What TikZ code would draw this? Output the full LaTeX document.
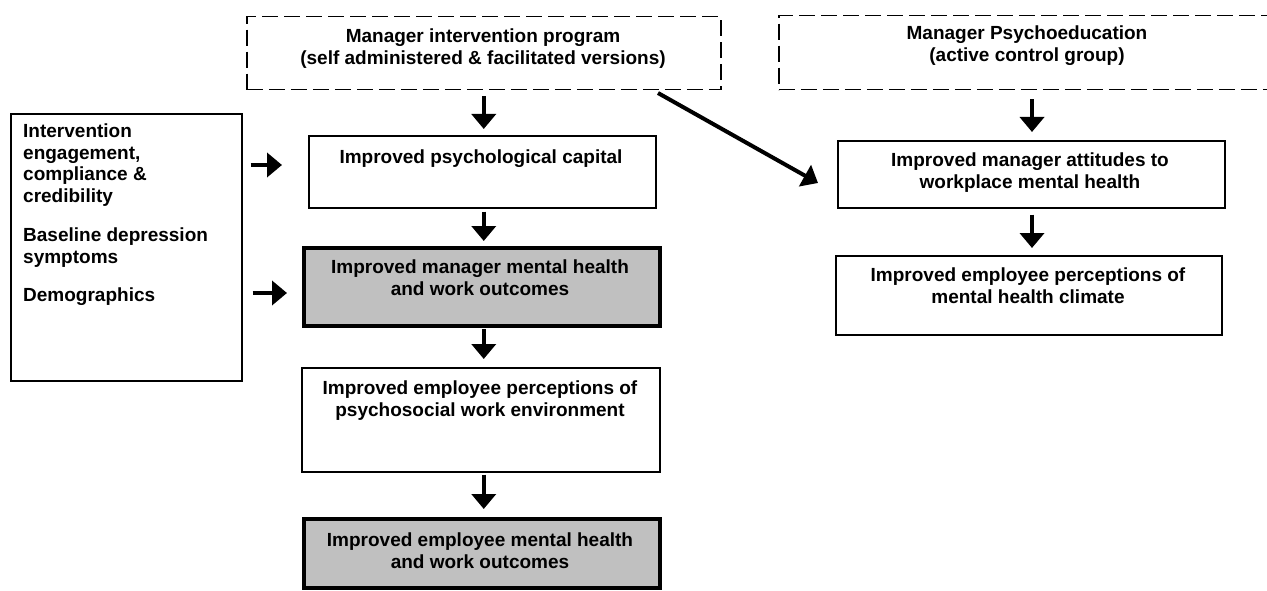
\documentclass[tikz,border=0pt]{standalone}
\usepackage{fontspec}
\setmainfont{Liberation Sans}
\usetikzlibrary{arrows.meta,calc}
\definecolor{boxgray}{HTML}{C0C0C0}
\tikzset{
  box/.style={draw=black, line width=1.6pt, rectangle, inner sep=0pt, anchor=north west},
  dbox/.style={box, dash pattern=on 16pt off 6pt, line width=1.5pt},
  gbox/.style={box, line width=4pt, fill=boxgray},
  txt/.style={inner sep=0pt, anchor=north, align=center, font=\fontsize{19}{21.5}\selectfont\bfseries},
  ltxt/.style={inner sep=0pt, anchor=north west, align=left, font=\fontsize{19}{21.5}\selectfont\bfseries},
  arr/.style={line width=4pt, -{Triangle[width=24pt,length=15pt]}}
}
\begin{document}
\begin{tikzpicture}[x=1pt,y=-1pt]
\useasboundingbox (0,0) rectangle (1267,591);
\clip (0,0) rectangle (1267,591);
% boxes
\node[dbox, minimum width=474pt, minimum height=73pt] (prog) at (246,16) {};
\node[dbox, minimum width=520pt, minimum height=74pt] (psyed) at (778,15) {};
\node[box, minimum width=231pt, minimum height=267pt] (left) at (10,113) {};
\node[box, minimum width=347pt, minimum height=72pt] (cap) at (308,135) {};
\node[gbox, minimum width=356pt, minimum height=78pt] (mmh) at (302,246) {};
\node[box, minimum width=358pt, minimum height=104pt] (eperc) at (301,367) {};
\node[gbox, minimum width=356pt, minimum height=69pt] (emh) at (302,517) {};
\node[box, minimum width=387pt, minimum height=67pt] (att) at (837,140) {};
\node[box, minimum width=386pt, minimum height=79pt] (clim) at (835,255) {};
% texts
\node[txt] (progT) at (483,29) {Manager intervention program\\(self administered \& facilitated versions)};
\node[txt] (psyedT) at (1027,26) {Manager Psychoeducation\\(active control group)};
\node[txt] (capT) at (481,150) {Improved psychological capital};
\node[txt] (mmhT) at (480,260) {Improved manager mental health\\and work outcomes};
\node[txt] (epercT) at (480,381) {Improved employee perceptions of\\psychosocial work environment};
\node[txt] (emhT) at (480,533) {Improved employee mental health\\and work outcomes};
\node[txt] (attT) at (1030,153) {Improved manager attitudes to\\workplace mental health};
\node[txt] (climT) at (1028,268) {Improved employee perceptions of\\mental health climate};
\node[ltxt] (leftA) at (23,124) {Intervention\\engagement,\\compliance \&\\credibility};
\node[ltxt] (leftB) at (23,228) {Baseline depression\\symptoms};
\node[ltxt] (leftC) at (23,288) {Demographics};
% connectors
\draw[arr, shorten <=6pt, shorten >=6pt] (prog.south) -- (prog.south |- cap.north);
\draw[arr, shorten <=3pt, shorten >=5pt] (prog.south |- cap.south) -- (prog.south |- mmh.north);
\draw[arr, shorten <=1pt, shorten >=8pt] (prog.south |- mmh.south) -- (prog.south |- eperc.north);
\draw[arr, shorten <=2pt, shorten >=8pt] (prog.south |- eperc.south) -- (prog.south |- emh.north);
\coordinate (rc) at (1032,0);
\draw[arr, shorten <=9pt, shorten >=8pt] (rc |- psyed.south) -- (rc |- att.north);
\draw[arr, shorten <=6pt, shorten >=7pt] (rc |- att.south) -- (rc |- clim.north);
\coordinate (l1) at (0,165);
\coordinate (l2) at (0,293);
\draw[arr, shorten <=8pt, shorten >=26pt] (left.east |- l1) -- (cap.west |- l1);
\draw[arr, shorten <=10pt, shorten >=15pt] (left.east |- l2) -- (mmh.west |- l2);
\coordinate (d1) at (658,93);
\coordinate (d2) at (818,183);
\draw[arr] (d1) -- (d2);
\end{tikzpicture}
\end{document}
